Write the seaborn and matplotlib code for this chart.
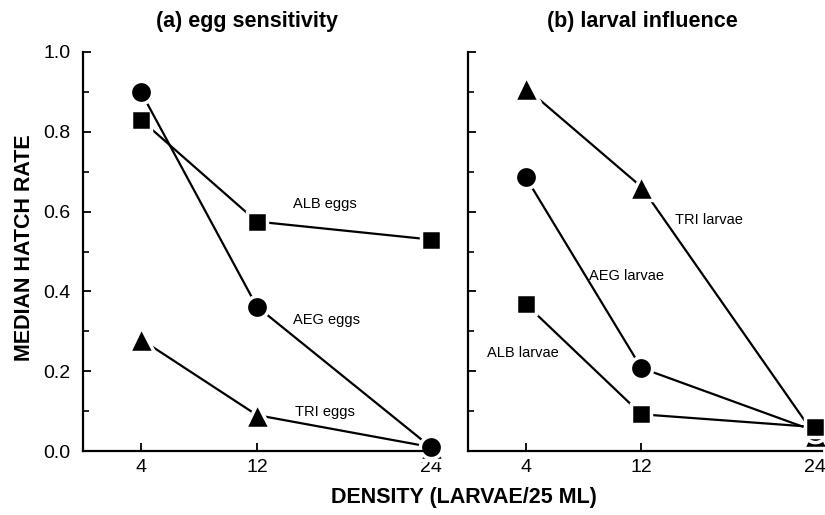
import matplotlib
matplotlib.use("Agg")
import matplotlib.pyplot as plt
import seaborn as sns
import pandas as pd

sns.set_style("ticks")
plt.rcParams['font.family'] = ['Liberation Sans', 'DejaVu Sans']
plt.rcParams.update({"text.color": "black", "axes.labelcolor": "black",
                     "xtick.color": "black", "ytick.color": "black",
                     "axes.edgecolor": "black"})

density = [4, 12, 24]

# (a) egg sensitivity
alb_eggs = [0.83, 0.575, 0.53]
aeg_eggs = [0.90, 0.362, 0.01]
tri_eggs = [0.28, 0.09, 0.01]

# (b) larval influence
tri_larvae = [0.91, 0.662, 0.04]
aeg_larvae = [0.686, 0.208, 0.05]
alb_larvae = [0.368, 0.092, 0.06]

panel_titles = ["(a) egg sensitivity", "(b) larval influence"]
xtick_labels = ["4", "12", "24"]
ytick_values = [0.0, 0.2, 0.4, 0.6, 0.8, 1.0]
ytick_labels = ["0.0", "0.2", "0.4", "0.6", "0.8", "1.0"]
yminor_values = [0.1, 0.3, 0.5, 0.7, 0.9]
ylabel = "MEDIAN HATCH RATE"
xlabel = "DENSITY (LARVAE/25 ML)"

panels = [
    [("ALB eggs", alb_eggs, "s"), ("TRI eggs", tri_eggs, "^"), ("AEG eggs", aeg_eggs, "o")],
    [("TRI larvae", tri_larvae, "^"), ("AEG larvae", aeg_larvae, "o"), ("ALB larvae", alb_larvae, "s")],
]
label_pos = [
    {"ALB eggs": (14.5, 0.62), "AEG eggs": (14.5, 0.328), "TRI eggs": (14.6, 0.098)},
    {"TRI larvae": (14.3, 0.579), "AEG larvae": (8.37, 0.439), "ALB larvae": (1.31, 0.246)},
]
marker_sizes = {"o": 16, "s": 14.5, "^": 18}

fig = plt.figure(figsize=(8.25, 5.15), dpi=100)
W, H = 825, 515
ax_boxes = [(83, 52, 438, 451), (468, 52, 822, 451)]
axes = []
for (x0, y0, x1, y1) in ax_boxes:
    axes.append(fig.add_axes([x0 / W, 1 - y1 / H, (x1 - x0) / W, (y1 - y0) / H]))

title_x = [0.462, 0.493]
for i, ax in enumerate(axes):
    for name, vals, mk in panels[i]:
        df = pd.DataFrame({"density": density, "rate": vals})
        sns.lineplot(data=df, x="density", y="rate", ax=ax, color="black",
                     marker=mk, markersize=marker_sizes[mk], mec="white", mew=2.5,
                     mfc="black", linewidth=1.6, clip_on=False)
        tx, ty = label_pos[i][name]
        ax.text(tx, ty, name, fontsize=10.5, ha="left", va="center")
    ax.set_xlim(0, 24.5)
    ax.set_ylim(0, 1.0)
    ax.set_xticks(density)
    ax.set_xticklabels(xtick_labels)
    ax.set_yticks(ytick_values)
    ax.set_yticks(yminor_values, minor=True)
    ax.tick_params(axis="both", which="major", direction="in", length=6, width=1.3,
                   labelsize=14, pad=6)
    ax.tick_params(axis="y", which="minor", direction="in", length=4, width=1.2)
    ax.tick_params(axis="y", which="major", pad=9)
    for s in ["top", "right"]:
        ax.spines[s].set_visible(False)
    for s in ["left", "bottom"]:
        ax.spines[s].set_linewidth(1.6)
    ax.set_xlabel("")
    ax.set_ylabel("")
    ax.text(title_x[i], 1.0 + 30 / 399, panel_titles[i], transform=ax.transAxes,
            ha="center", va="center", fontsize=15.5, fontweight="bold")

axes[0].set_yticklabels(ytick_labels)
axes[1].set_yticklabels([])

fig.text(25 / W, 1 - 248 / H, ylabel, rotation=90, ha="center", va="center",
         fontsize=15.5, fontweight="bold")
fig.text(464 / W, 1 - 497 / H, xlabel, ha="center", va="center",
         fontsize=15.5, fontweight="bold")

fig.savefig("out.png", dpi=100, facecolor="white")
